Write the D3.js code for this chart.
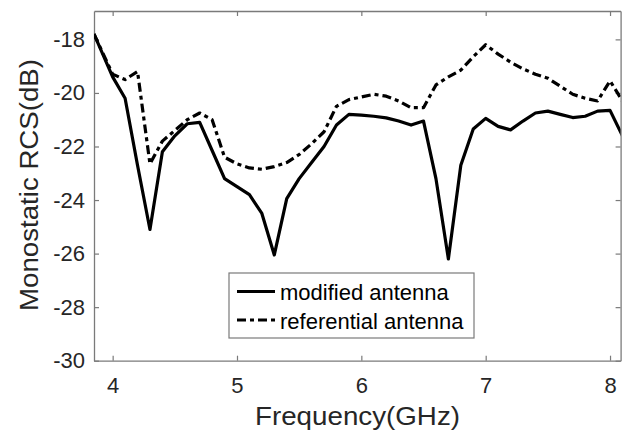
<!doctype html>
<html>
  <head>
    <meta charset="utf-8">
    <script src="https://d3js.org/d3.v7.min.js"></script>
    <style>
      body { margin: 0; background: #fff; }
      text { font-family: "Liberation Sans", Arial, sans-serif; }
    </style>
  </head>
  <body>
    <div id="graphic"></div>
    <script>

// Data (GHz, dB)
var freq = [3.85, 4.0, 4.1, 4.2, 4.3, 4.4, 4.5, 4.6, 4.7, 4.8, 4.9,
            5.0, 5.1, 5.2, 5.3, 5.4, 5.5, 5.6, 5.7, 5.8, 5.9,
            6.0, 6.1, 6.2, 6.3, 6.4, 6.5, 6.6, 6.7, 6.8, 6.9,
            7.0, 7.1, 7.2, 7.3, 7.4, 7.5, 7.6, 7.7, 7.8, 7.9,
            8.0, 8.1];

var modified = [-17.8, -19.4, -20.2, -22.7, -25.1, -22.2, -21.6, -21.15, -21.1, -22.15, -23.2,
                -23.5, -23.8, -24.5, -26.05, -23.95, -23.2, -22.6, -22.0, -21.2, -20.8,
                -20.83, -20.87, -20.93, -21.05, -21.2, -21.05, -23.2, -26.2, -22.7, -21.35,
                -20.95, -21.25, -21.38, -21.05, -20.75, -20.68, -20.8, -20.92, -20.87, -20.68,
                -20.65, -21.6];

var referential = [-17.8, -19.3, -19.5, -19.2, -22.65, -21.8, -21.4, -21.0, -20.75, -21.0, -22.4,
                   -22.65, -22.8, -22.85, -22.75, -22.6, -22.3, -21.9, -21.45, -20.5, -20.25,
                   -20.15, -20.05, -20.12, -20.3, -20.55, -20.55, -19.7, -19.4, -19.15, -18.65,
                   -18.2, -18.55, -18.85, -19.1, -19.3, -19.45, -19.75, -20.05, -20.2, -20.3,
                   -19.55, -20.3];

var xTicks = [4, 5, 6, 7, 8];
var yTicks = [-30, -28, -26, -24, -22, -20, -18];
var seriesNames = ["modified antenna", "referential antenna"];

var W = 622, H = 432;
var margin = {top: 11, right: 1.4, bottom: 71.3, left: 94};
var width = W - margin.left - margin.right,
    height = H - margin.top - margin.bottom;

var svg = d3.select("#graphic").append("svg")
  .attr("width", W)
  .attr("height", H)
  .append("g")
  .attr("transform", "translate(" + margin.left + "," + margin.top + ")");

var xScale = d3.scaleLinear().domain([3.85, 8.085]).range([0, width]);
var yScale = d3.scaleLinear().domain([-30, -16.94]).range([height, 0]);

var axisColor = "#7a7a7a";
var labelColor = "#262626";
var refDash = "9,4,4,4";

// plain hyphen minus like the original
var fmt = function(d) { return String(d); };

// clip so the lines stay inside the box
svg.append("clipPath").attr("id", "plotclip")
  .append("rect").attr("width", width).attr("height", height);

// bottom axis
var gx = svg.append("g")
  .attr("transform", "translate(0," + height + ")")
  .call(d3.axisBottom(xScale).tickValues(xTicks).tickFormat(fmt)
    .tickSizeInner(-5).tickSizeOuter(0).tickPadding(17));

// top axis (ticks only)
var gxTop = svg.append("g")
  .call(d3.axisTop(xScale).tickValues(xTicks).tickFormat("")
    .tickSizeInner(-5).tickSizeOuter(0));

// left axis
var gy = svg.append("g")
  .call(d3.axisLeft(yScale).tickValues(yTicks).tickFormat(fmt)
    .tickSizeInner(-5).tickSizeOuter(0).tickPadding(9));

// right axis (ticks only)
var gyRight = svg.append("g")
  .attr("transform", "translate(" + width + ",0)")
  .call(d3.axisRight(yScale).tickValues(yTicks).tickFormat("")
    .tickSizeInner(-5).tickSizeOuter(0));

[gx, gxTop, gy, gyRight].forEach(function(g) {
  g.select(".domain").attr("stroke", axisColor).attr("stroke-width", 1.3);
  g.selectAll(".tick line").attr("stroke", axisColor).attr("stroke-width", 1.2);
  g.selectAll("text")
    .attr("fill", labelColor)
    .style("font-size", "22px")
    .style("font-family", "'Liberation Sans', Arial, sans-serif");
});

// lines
var line = d3.line()
  .x(function(d) { return xScale(d[0]); })
  .y(function(d) { return yScale(d[1]); });

var plot = svg.append("g").attr("clip-path", "url(#plotclip)");

plot.append("path")
  .datum(d3.zip(freq, referential))
  .attr("d", line)
  .attr("fill", "none")
  .attr("stroke", "#000")
  .attr("stroke-width", 3.2)
  .attr("stroke-linejoin", "round")
  .attr("stroke-dasharray", refDash);

plot.append("path")
  .datum(d3.zip(freq, modified))
  .attr("d", line)
  .attr("fill", "none")
  .attr("stroke", "#000")
  .attr("stroke-width", 3.2)
  .attr("stroke-linejoin", "round");

// legend
var legend = svg.append("g")
  .attr("transform", "translate(" + (229 - margin.left) + "," + (273 - margin.top) + ")");

legend.append("rect")
  .attr("width", 245)
  .attr("height", 65)
  .attr("fill", "#fff")
  .attr("stroke", axisColor)
  .attr("stroke-width", 1.2);

var dashes = [null, refDash];
seriesNames.forEach(function(name, i) {
  var ly = 18.5 + i * 28.5;
  legend.append("line")
    .attr("x1", 8).attr("x2", 46)
    .attr("y1", ly).attr("y2", ly)
    .attr("stroke", "#000")
    .attr("stroke-width", 3.2)
    .attr("stroke-dasharray", dashes[i]);
  legend.append("text")
    .attr("x", 51)
    .attr("y", ly + 8.5)
    .attr("fill", "#000")
    .style("font-size", "22px")
    .text(name);
});

// axis titles
svg.append("text")
  .attr("x", 357.5 - margin.left)
  .attr("y", 425 - margin.top)
  .attr("text-anchor", "middle")
  .attr("fill", labelColor)
  .attr("textLength", 205)
  .attr("lengthAdjust", "spacingAndGlyphs")
  .style("font-size", "25px")
  .text("Frequency(GHz)");

svg.append("text")
  .attr("text-anchor", "middle")
  .attr("transform", "translate(" + (38 - margin.left) + "," + (185 - margin.top) + ")rotate(-90)")
  .attr("fill", labelColor)
  .attr("textLength", 252)
  .attr("lengthAdjust", "spacingAndGlyphs")
  .style("font-size", "25px")
  .text("Monostatic RCS(dB)");

    </script>
  </body>
</html>
